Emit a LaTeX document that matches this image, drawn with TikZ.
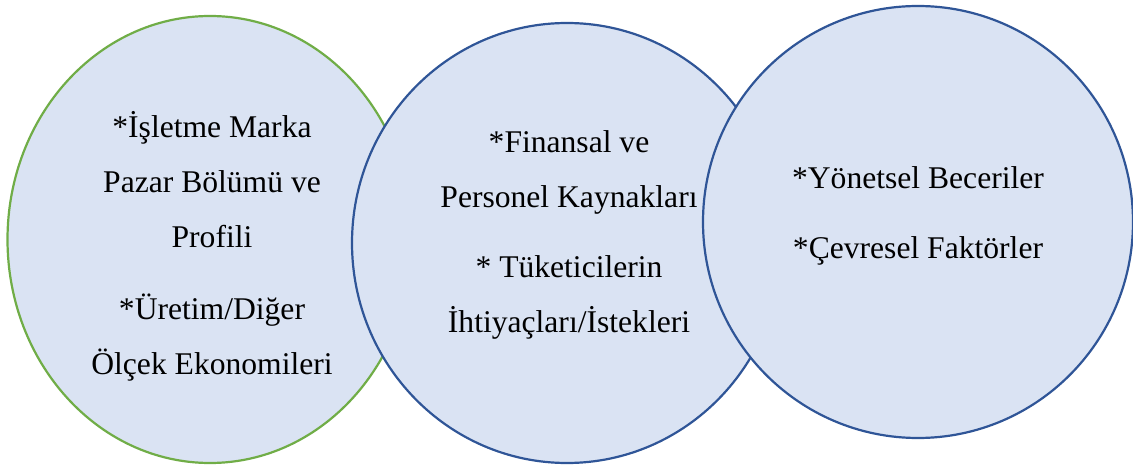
\documentclass[tikz,border=0pt]{standalone}
\usepackage{fontspec}
\setmainfont{Liberation Serif}
\usepackage{tikz}
\usetikzlibrary{shapes.geometric,positioning}
\usepackage{xcolor}
\definecolor{areafill}{HTML}{DAE3F3}
\definecolor{areablue}{HTML}{2F5597}
\definecolor{areagreen}{HTML}{70AD47}

\begin{document}
\begin{tikzpicture}[x=1pt,y=1pt,
 area/.style={ellipse,draw=areablue,fill=areafill,line width=2.2pt,inner sep=0pt},
 txt/.style={align=center,inner sep=0pt,anchor=base,
   font=\fontsize{31.6}{55}\selectfont}]
\useasboundingbox (0,0) rectangle (1133,466);
% three overlapping areas, left to right
\node [area,draw=areagreen,minimum width=405pt,minimum height=447pt] (a1) at (210,226.5) {};
\node [area,minimum width=430pt,minimum height=440pt] (a2) at (567,223) {};
\node [area,minimum width=430pt,minimum height=432pt] (a3) at (918,244) {};
% texts, placed at the baseline of their last line
\node [txt] (t1) at (212,91) {*İşletme Marka\\Pazar Bölümü ve\\Profili\\[17pt]*Üretim/Diğer\\Ölçek Ekonomileri};
\node [txt] (t2) at (569,133) {*Finansal ve\\Personel Kaynakları\\[15pt]* Tüketicilerin\\İhtiyaçları/İstekleri};
\node [txt] (t3) at (918,207) {*Yönetsel Beceriler\\[15pt]*Çevresel Faktörler};
\end{tikzpicture}
\end{document}
